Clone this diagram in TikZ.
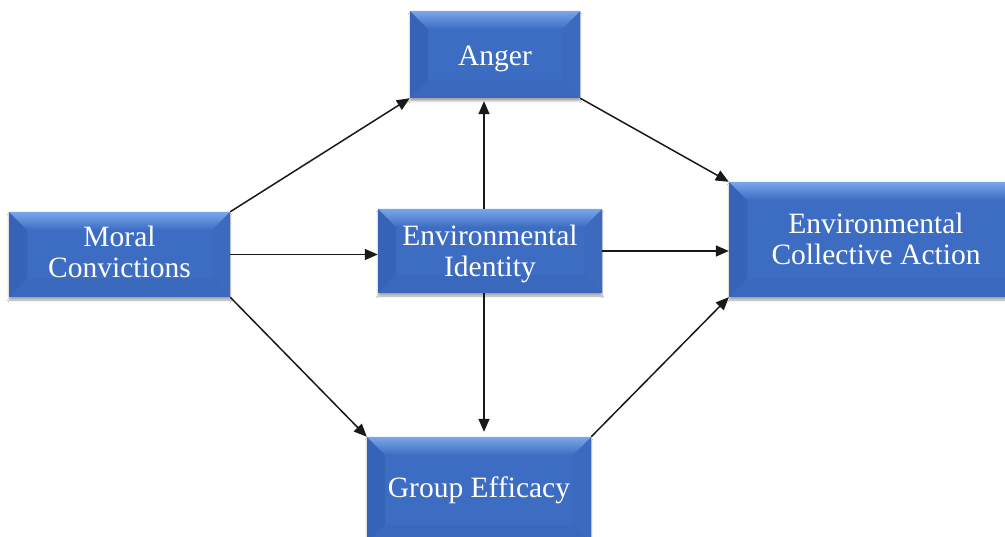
\documentclass[tikz,border=0pt]{standalone}
\usepackage{fontspec}
\setmainfont{Liberation Serif}
\usetikzlibrary{arrows.meta,shadows.blur}
\definecolor{boxbase}{HTML}{3D6DC3}
\definecolor{boxtop}{HTML}{7AA6EA}
\definecolor{boxleft}{HTML}{3563B6}
\definecolor{boxright}{HTML}{3B6ABF}
\definecolor{boxbottom}{HTML}{3A68BC}
\newcommand\boxtext[2]{\raisebox{#1}[\height][\depth]{\begin{tabular}{@{}c@{}}#2\end{tabular}}}
\tikzset{
  box/.style={fill=boxbase, draw=none, text=white, inner sep=0pt,
    font=\fontsize{29.5}{31}\selectfont,
    blur shadow={shadow xshift=0pt, shadow yshift=-3pt, shadow blur steps=6, shadow opacity=35},
    path picture={
      \fill[boxleft] (path picture bounding box.north west) -- ([xshift=18pt,yshift=-18pt]path picture bounding box.north west) -- ([xshift=18pt,yshift=18pt]path picture bounding box.south west) -- (path picture bounding box.south west) -- cycle;
      \fill[boxright] (path picture bounding box.north east) -- ([xshift=-18pt,yshift=-18pt]path picture bounding box.north east) -- ([xshift=-18pt,yshift=18pt]path picture bounding box.south east) -- (path picture bounding box.south east) -- cycle;
      \fill[boxbottom] (path picture bounding box.south west) -- ([xshift=18pt,yshift=18pt]path picture bounding box.south west) -- ([xshift=-18pt,yshift=18pt]path picture bounding box.south east) -- (path picture bounding box.south east) -- cycle;
      \shade[top color=boxtop, bottom color=boxbase] (path picture bounding box.north west) -- (path picture bounding box.north east) -- ([xshift=-18pt,yshift=-18pt]path picture bounding box.north east) -- ([xshift=18pt,yshift=-18pt]path picture bounding box.north west) -- cycle;
    }},
  arr/.style={draw=black!90, line width=1.5pt, -{Triangle[length=13pt,width=11pt]}}
}
\begin{document}
\begin{tikzpicture}[x=1pt,y=-1pt]
\useasboundingbox (0,0) rectangle (1005,537);
\fill[white] (0,0) rectangle (1005,537);
\clip (0,0) rectangle (1005,537);
\node[box, minimum width=170pt, minimum height=87pt] (an) at (495,54.5) {\boxtext{-5pt}{Anger}};
\node[box, minimum width=221pt, minimum height=85pt] (mc) at (119.5,254.5) {\boxtext{-1pt}{Moral\\Convictions}};
\node[box, minimum width=224pt, minimum height=84pt] (ei) at (490,251) {\boxtext{-4pt}{Environmental\\Identity}};
\node[box, minimum width=224pt, minimum height=106pt] (gr) at (479,490) {\boxtext{-1pt}{Group Efficacy}};
\node[box, minimum width=294pt, minimum height=115pt] (eca) at (876,239.5) {\boxtext{-3pt}{Environmental\\Collective Action}};
\draw[arr] (mc.north east) -- (an.south west);
\draw[arr] (mc.east) -- (mc.east -| ei.west);
\draw[arr] (mc.south east) -- (gr.north west);
\draw[arr] (an.south east) -- (eca.north west);
\draw[arr] (ei.east) -- (ei.east -| eca.west);
\draw[arr] (gr.north east) -- (eca.south west);
\draw[arr, shorten >=3pt] ([xshift=-6pt]ei.north) -- ([xshift=-6pt]ei.north |- an.south);
\draw[arr, shorten >=5pt] ([xshift=-6pt]ei.south) -- ([xshift=-6pt]ei.south |- gr.north);
\end{tikzpicture}
\end{document}
